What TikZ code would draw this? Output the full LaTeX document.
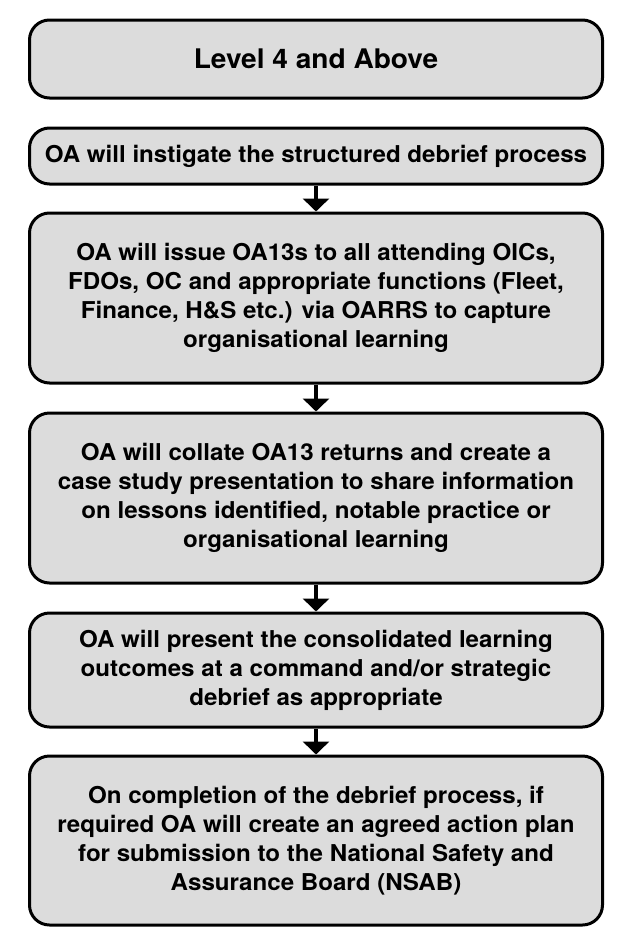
\documentclass[tikz,border=0pt]{standalone}
\usepackage{fontspec}
\setmainfont{TeX Gyre Heros}[FakeStretch=1.04]
\usetikzlibrary{arrows.meta}
\tikzset{
  box/.style={draw=black, line width=3pt, fill=boxgray, rounded corners=20pt,
    minimum width=573pt, align=center, inner sep=0pt,
    font=\fontsize{23.2}{29}\selectfont\bfseries},
  flow/.style={line width=4pt, -{Triangle[width=26pt,length=13pt]}}
}
\definecolor{boxgray}{HTML}{DCDCDC}
\begin{document}
\begin{tikzpicture}[x=1pt,y=1pt]
\useasboundingbox (0,0) rectangle (634,-940);
\node[box, minimum height=78pt, font=\fontsize{27}{32}\selectfont\bfseries] (b1) at (316,-59) {Level 4 and Above};
\node[box, minimum height=56pt] (b2) at (316,-156) {OA will instigate the structured debrief process};
\node[box, minimum height=170pt] (b3) at (316,-298) {OA will issue OA13s to all attending OICs,\\FDOs, OC and appropriate functions (Fleet,\\Finance, H\&S etc.) via OARRS to capture\\organisational learning};
\node[box, minimum height=170pt] (b4) at (316,-498) {OA will collate OA13 returns and create a\\case study presentation to share information\\on lessons identified, notable practice or\\organisational learning};
\node[box, minimum height=114pt] (b5) at (316,-670) {OA will present the consolidated learning\\outcomes at a command and/or strategic\\debrief as appropriate};
\node[box, minimum height=169pt] (b6) at (316,-840.5) {On completion of the debrief process, if\\required OA will create an agreed action plan\\for submission to the National Safety and\\Assurance Board (NSAB)};
\draw[flow] (b2.south) -- (b3.north);
\draw[flow] (b3.south) -- (b4.north);
\draw[flow] (b4.south) -- (b5.north);
\draw[flow] (b5.south) -- (b6.north);
\end{tikzpicture}
\end{document}
